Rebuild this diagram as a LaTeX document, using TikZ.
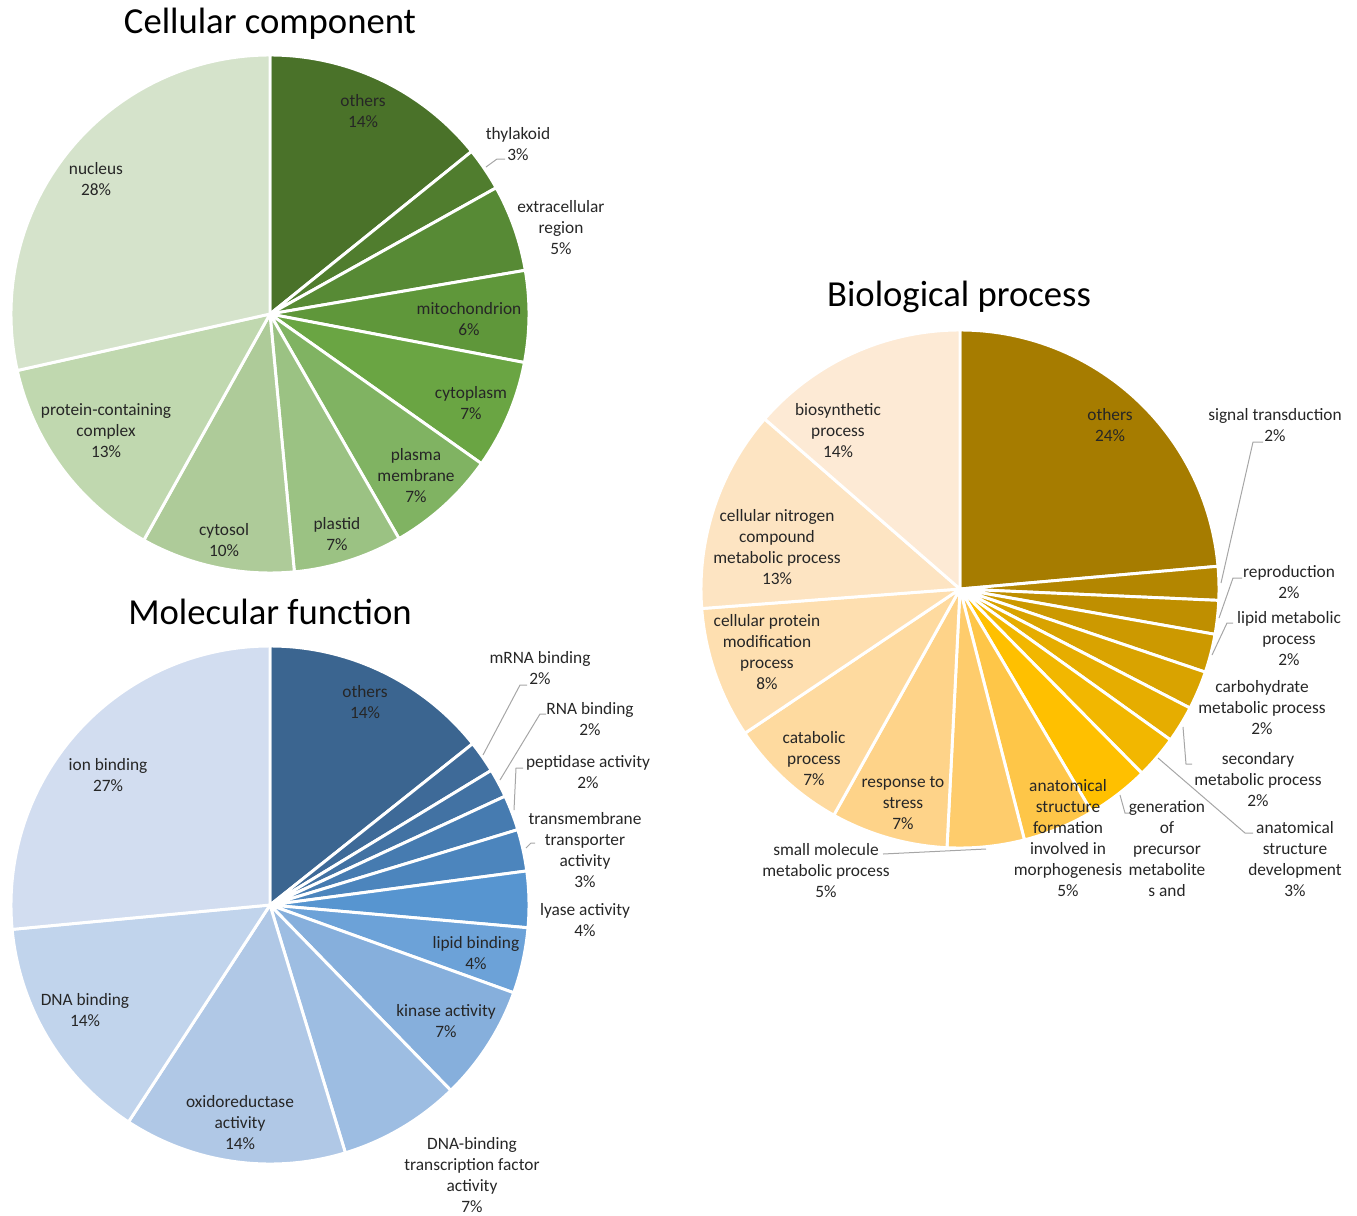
\documentclass[tikz,border=0pt]{standalone}
\usepackage{fontspec}
\setmainfont{Carlito}

\definecolor{ccA}{HTML}{4A7229}
\definecolor{ccB}{HTML}{507D2E}
\definecolor{ccC}{HTML}{578A35}
\definecolor{ccD}{HTML}{5F973A}
\definecolor{ccE}{HTML}{6AA543}
\definecolor{ccF}{HTML}{80B362}
\definecolor{ccG}{HTML}{9BC283}
\definecolor{ccH}{HTML}{AECB99}
\definecolor{ccI}{HTML}{C0D8AF}
\definecolor{ccJ}{HTML}{D5E3CB}

\definecolor{mfA}{HTML}{3B6590}
\definecolor{mfB}{HTML}{3E6A98}
\definecolor{mfC}{HTML}{4272A3}
\definecolor{mfD}{HTML}{467BB0}
\definecolor{mfE}{HTML}{4C85BD}
\definecolor{mfF}{HTML}{5795D0}
\definecolor{mfG}{HTML}{6CA2D8}
\definecolor{mfH}{HTML}{86AFDC}
\definecolor{mfI}{HTML}{9DBDE2}
\definecolor{mfJ}{HTML}{B0C8E6}
\definecolor{mfK}{HTML}{C1D4EC}
\definecolor{mfL}{HTML}{D2DDF0}

\definecolor{bpA}{HTML}{A67C00}
\definecolor{bpB}{HTML}{B38600}
\definecolor{bpC}{HTML}{BF8F00}
\definecolor{bpD}{HTML}{CC9900}
\definecolor{bpE}{HTML}{D9A300}
\definecolor{bpF}{HTML}{E6AD00}
\definecolor{bpG}{HTML}{F2B700}
\definecolor{bpH}{HTML}{FFC000}
\definecolor{bpI}{HTML}{FEC648}
\definecolor{bpJ}{HTML}{FECC6C}
\definecolor{bpK}{HTML}{FED389}
\definecolor{bpL}{HTML}{FEDA9F}
\definecolor{bpM}{HTML}{FEDFB0}
\definecolor{bpN}{HTML}{FDE4C2}
\definecolor{bpO}{HTML}{FDEAD5}

\tikzset{every picture/.style={line width=0.75pt}}
\tikzset{
  wedge/.style={draw=white, line width=2.2pt, line join=round},
  lbl/.style={font=\fontsize{13}{15.75}\selectfont, text=black!85, align=center, inner sep=0pt},
  charttitle/.style={font=\fontsize{27.5}{33}\selectfont, text=black, inner sep=0pt},
  leader/.style={draw=black!35, line width=0.75pt}
}

\begin{document}
\begin{tikzpicture}[x=0.75pt,y=0.75pt,yscale=-1,xscale=1]
\path[use as bounding box] (0,0) rectangle (1357,1215);

% pie centres
\coordinate (cc) at (270,314);
\coordinate (mf) at (270,905);
\coordinate (bp) at (960,589);

%Shape: Pie -- Cellular component
\draw [wedge, fill=ccA] (cc) -- ++(-90:259) arc[start angle=-90, end angle=-38.88, radius=259] -- cycle;
\draw [wedge, fill=ccB] (cc) -- ++(-38.88:259) arc[start angle=-38.88, end angle=-29.16, radius=259] -- cycle;
\draw [wedge, fill=ccC] (cc) -- ++(-29.16:259) arc[start angle=-29.16, end angle=-9.72, radius=259] -- cycle;
\draw [wedge, fill=ccD] (cc) -- ++(-9.72:259) arc[start angle=-9.72, end angle=10.8, radius=259] -- cycle;
\draw [wedge, fill=ccE] (cc) -- ++(10.8:259) arc[start angle=10.8, end angle=35.28, radius=259] -- cycle;
\draw [wedge, fill=ccF] (cc) -- ++(35.28:259) arc[start angle=35.28, end angle=60.12, radius=259] -- cycle;
\draw [wedge, fill=ccG] (cc) -- ++(60.12:259) arc[start angle=60.12, end angle=84.6, radius=259] -- cycle;
\draw [wedge, fill=ccH] (cc) -- ++(84.6:259) arc[start angle=84.6, end angle=119.16, radius=259] -- cycle;
\draw [wedge, fill=ccI] (cc) -- ++(119.16:259) arc[start angle=119.16, end angle=167.4, radius=259] -- cycle;
\draw [wedge, fill=ccJ] (cc) -- ++(167.4:259) arc[start angle=167.4, end angle=270, radius=259] -- cycle;

%Shape: Pie -- Molecular function
\draw [wedge, fill=mfA] (mf) -- ++(-90:259) arc[start angle=-90, end angle=-38.52, radius=259] -- cycle;
\draw [wedge, fill=mfB] (mf) -- ++(-38.52:259) arc[start angle=-38.52, end angle=-31.32, radius=259] -- cycle;
\draw [wedge, fill=mfC] (mf) -- ++(-31.32:259) arc[start angle=-31.32, end angle=-24.84, radius=259] -- cycle;
\draw [wedge, fill=mfD] (mf) -- ++(-24.84:259) arc[start angle=-24.84, end angle=-16.92, radius=259] -- cycle;
\draw [wedge, fill=mfE] (mf) -- ++(-16.92:259) arc[start angle=-16.92, end angle=-7.56, radius=259] -- cycle;
\draw [wedge, fill=mfF] (mf) -- ++(-7.56:259) arc[start angle=-7.56, end angle=5.04, radius=259] -- cycle;
\draw [wedge, fill=mfG] (mf) -- ++(5.04:259) arc[start angle=5.04, end angle=19.8, radius=259] -- cycle;
\draw [wedge, fill=mfH] (mf) -- ++(19.8:259) arc[start angle=19.8, end angle=45.72, radius=259] -- cycle;
\draw [wedge, fill=mfI] (mf) -- ++(45.72:259) arc[start angle=45.72, end angle=73.08, radius=259] -- cycle;
\draw [wedge, fill=mfJ] (mf) -- ++(73.08:259) arc[start angle=73.08, end angle=123.12, radius=259] -- cycle;
\draw [wedge, fill=mfK] (mf) -- ++(123.12:259) arc[start angle=123.12, end angle=174.6, radius=259] -- cycle;
\draw [wedge, fill=mfL] (mf) -- ++(174.6:259) arc[start angle=174.6, end angle=270, radius=259] -- cycle;

%Shape: Pie -- Biological process
\draw [wedge, fill=bpA] (bp) -- ++(-90:259) arc[start angle=-90, end angle=-5.04, radius=259] -- cycle;
\draw [wedge, fill=bpB] (bp) -- ++(-5.04:259) arc[start angle=-5.04, end angle=2.52, radius=259] -- cycle;
\draw [wedge, fill=bpC] (bp) -- ++(2.52:259) arc[start angle=2.52, end angle=10.08, radius=259] -- cycle;
\draw [wedge, fill=bpD] (bp) -- ++(10.08:259) arc[start angle=10.08, end angle=18.72, radius=259] -- cycle;
\draw [wedge, fill=bpE] (bp) -- ++(18.72:259) arc[start angle=18.72, end angle=27.36, radius=259] -- cycle;
\draw [wedge, fill=bpF] (bp) -- ++(27.36:259) arc[start angle=27.36, end angle=35.64, radius=259] -- cycle;
\draw [wedge, fill=bpG] (bp) -- ++(35.64:259) arc[start angle=35.64, end angle=45.36, radius=259] -- cycle;
\draw [wedge, fill=bpH] (bp) -- ++(45.36:259) arc[start angle=45.36, end angle=59.4, radius=259] -- cycle;
\draw [wedge, fill=bpI] (bp) -- ++(59.4:259) arc[start angle=59.4, end angle=75.6, radius=259] -- cycle;
\draw [wedge, fill=bpJ] (bp) -- ++(75.6:259) arc[start angle=75.6, end angle=92.88, radius=259] -- cycle;
\draw [wedge, fill=bpK] (bp) -- ++(92.88:259) arc[start angle=92.88, end angle=119.16, radius=259] -- cycle;
\draw [wedge, fill=bpL] (bp) -- ++(119.16:259) arc[start angle=119.16, end angle=146.16, radius=259] -- cycle;
\draw [wedge, fill=bpM] (bp) -- ++(146.16:259) arc[start angle=146.16, end angle=175.68, radius=259] -- cycle;
\draw [wedge, fill=bpN] (bp) -- ++(175.68:259) arc[start angle=175.68, end angle=221.04, radius=259] -- cycle;
\draw [wedge, fill=bpO] (bp) -- ++(221.04:259) arc[start angle=221.04, end angle=270, radius=259] -- cycle;

% leader ends
\coordinate (cc-thyl-a) at (486,167);   \coordinate (cc-thyl-b) at (497,159);   \coordinate (cc-thyl-c) at (505,159);
\coordinate (mf-mrna-a) at (483,755);   \coordinate (mf-mrna-b) at (520,685);   \coordinate (mf-mrna-c) at (527,685);
\coordinate (mf-rna-a) at (500,780);    \coordinate (mf-rna-b) at (540,714);    \coordinate (mf-rna-c) at (546,714);
\coordinate (mf-pept-a) at (514,810);   \coordinate (mf-pept-b) at (516,768);   \coordinate (mf-pept-c) at (523,768);
\coordinate (mf-trans-a) at (526,848);  \coordinate (mf-trans-b) at (531,843);  \coordinate (mf-trans-c) at (535,843);
\coordinate (bp-sig-a) at (1221,583);   \coordinate (bp-sig-b) at (1253,442);   \coordinate (bp-sig-c) at (1263,442);
\coordinate (bp-repro-a) at (1219,618); \coordinate (bp-repro-b) at (1233,578); \coordinate (bp-repro-c) at (1242,578);
\coordinate (bp-lipid-a) at (1212,655); \coordinate (bp-lipid-b) at (1227,623); \coordinate (bp-lipid-c) at (1233,623);
\coordinate (bp-sec-a) at (1183,727);   \coordinate (bp-sec-b) at (1186,764);   \coordinate (bp-sec-c) at (1192,764);
\coordinate (bp-dev-a) at (1158,758);   \coordinate (bp-dev-b) at (1245,833);   \coordinate (bp-dev-c) at (1253,833);
\coordinate (bp-gen-a) at (1120,795);   \coordinate (bp-gen-b) at (1125,813);   \coordinate (bp-gen-c) at (1129,813);
\coordinate (bp-small-a) at (986,849);  \coordinate (bp-small-b) at (883,854);

%Straight Lines
\draw [leader] (cc-thyl-a) -- (cc-thyl-b) -- (cc-thyl-c);
\draw [leader] (mf-mrna-a) -- (mf-mrna-b) -- (mf-mrna-c);
\draw [leader] (mf-rna-a) -- (mf-rna-b) -- (mf-rna-c);
\draw [leader] (mf-pept-a) -- (mf-pept-b) -- (mf-pept-c);
\draw [leader] (mf-trans-a) -- (mf-trans-b) -- (mf-trans-c);
\draw [leader] (bp-sig-a) -- (bp-sig-b) -- (bp-sig-c);
\draw [leader] (bp-repro-a) -- (bp-repro-b) -- (bp-repro-c);
\draw [leader] (bp-lipid-a) -- (bp-lipid-b) -- (bp-lipid-c);
\draw [leader] (bp-sec-a) -- (bp-sec-b) -- (bp-sec-c);
\draw [leader] (bp-dev-a) -- (bp-dev-b) -- (bp-dev-c);
\draw [leader] (bp-gen-a) -- (bp-gen-b) -- (bp-gen-c);
\draw [leader] (bp-small-a) -- (bp-small-b);

% Text Node -- titles
\draw (270,24) node [charttitle] (cc-title) {Cellular component};
\draw (270,612) node [charttitle] (mf-title) {Molecular function};
\draw (959,297) node [charttitle] (bp-title) {Biological process};

% Text Node -- Cellular component
\draw (363,111.5) node [lbl] (cc-others) {others\\14\%};
\draw (518,144.5) node [lbl] (cc-thyl) {thylakoid\\3\%};
\draw (561,228) node [lbl] (cc-extra) {extracellular\\region\\5\%};
\draw (469,319.5) node [lbl] (cc-mito) {mitochondrion\\6\%};
\draw (471,403.5) node [lbl] (cc-cyto) {cytoplasm\\7\%};
\draw (416,476) node [lbl] (cc-plasma) {plasma\\membrane\\7\%};
\draw (337,534.5) node [lbl] (cc-plastid) {plastid\\7\%};
\draw (224,540.5) node [lbl] (cc-cytosol) {cytosol\\10\%};
\draw (106,431) node [lbl] (cc-protein) {protein-containing\\complex\\13\%};
\draw (96,179.5) node [lbl] (cc-nucleus) {nucleus\\28\%};

% Text Node -- Molecular function
\draw (365,702.5) node [lbl] (mf-others) {others\\14\%};
\draw (540,668.5) node [lbl] (mf-mrna) {mRNA binding\\2\%};
\draw (590,719.5) node [lbl] (mf-rna) {RNA binding\\2\%};
\draw (588,772.5) node [lbl] (mf-pept) {peptidase activity\\2\%};
\draw (585,850.5) node [lbl] (mf-trans) {transmembrane\\transporter\\activity\\3\%};
\draw (585,920.5) node [lbl] (mf-lyase) {lyase activity\\4\%};
\draw (476,953.5) node [lbl] (mf-lipid) {lipid binding\\4\%};
\draw (446,1021.5) node [lbl] (mf-kinase) {kinase activity\\7\%};
\draw (472,1175) node [lbl] (mf-tf) {DNA-binding\\transcription factor\\activity\\7\%};
\draw (240,1123) node [lbl] (mf-oxido) {oxidoreductase\\activity\\14\%};
\draw (85,1010.5) node [lbl] (mf-dna) {DNA binding\\14\%};
\draw (108,775.5) node [lbl] (mf-ion) {ion binding\\27\%};

% Text Node -- Biological process
\draw (1110,425.5) node [lbl] (bp-others) {others\\24\%};
\draw (1275,425.5) node [lbl] (bp-sig) {signal transduction\\2\%};
\draw (1289,582.5) node [lbl] (bp-repro) {reproduction\\2\%};
\draw (1289,639) node [lbl] (bp-lipid) {lipid metabolic\\process\\2\%};
\draw (1262,708) node [lbl] (bp-carb) {carbohydrate\\metabolic process\\2\%};
\draw (1258,780) node [lbl] (bp-sec) {secondary\\metabolic process\\2\%};
\draw (1295,859.5) node [lbl] (bp-dev) {anatomical\\structure\\development\\3\%};
\draw (1167,849) node [lbl] (bp-gen) {generation\\of\\precursor\\metabolite\\s and};
\draw (1068,838.5) node [lbl] (bp-form) {anatomical\\structure\\formation\\involved in\\morphogenesis\\5\%};
\draw (826,871) node [lbl] (bp-small) {small molecule\\metabolic process\\5\%};
\draw (903,803) node [lbl] (bp-stress) {response to\\stress\\7\%};
\draw (814,759) node [lbl] (bp-catab) {catabolic\\process\\7\%};
\draw (767,652) node [lbl] (bp-protmod) {cellular protein\\modification\\process\\8\%};
\draw (777,547.5) node [lbl] (bp-nitro) {cellular nitrogen\\compound\\metabolic process\\13\%};
\draw (838,431) node [lbl] (bp-biosyn) {biosynthetic\\process\\14\%};

\end{tikzpicture}
\end{document}
